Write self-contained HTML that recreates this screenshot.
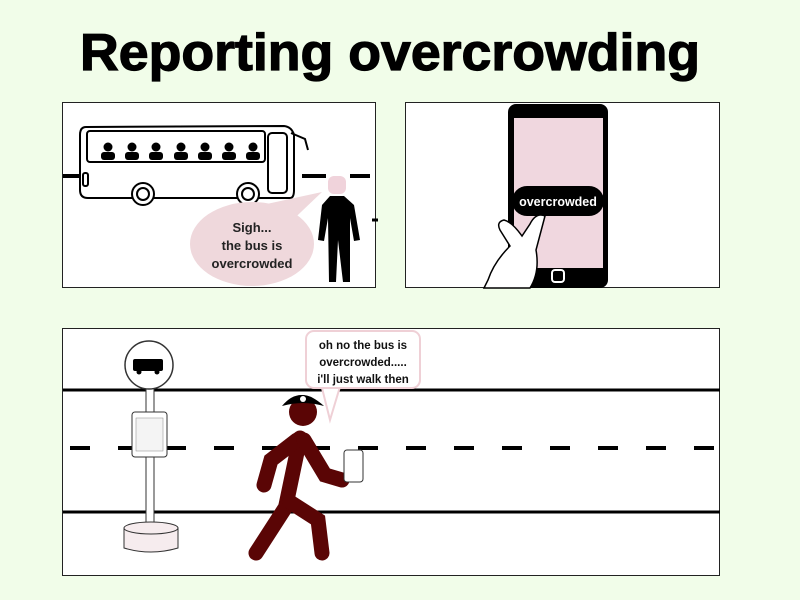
<!DOCTYPE html>
<html><head><meta charset="utf-8"><style>
html,body{margin:0;padding:0;background:#f1fde9;}
svg{display:block}
text{font-family:"Liberation Sans",sans-serif;font-weight:bold}
</style></head><body>
<svg width="800" height="600" viewBox="0 0 800 600">
<rect width="800" height="600" fill="#f1fde9"/>
<text x="390" y="70" text-anchor="middle" font-size="52" textLength="620" lengthAdjust="spacingAndGlyphs" fill="#000" stroke="#000" stroke-width="1.2">Reporting overcrowding</text>

<g>
<rect x="62.5" y="102.5" width="313" height="185" fill="#fff" stroke="#222"/>
<line x1="63" y1="176" x2="82" y2="176" stroke="#000" stroke-width="4"/>
<line x1="302" y1="176" x2="326" y2="176" stroke="#000" stroke-width="4"/>
<line x1="350" y1="176" x2="370" y2="176" stroke="#000" stroke-width="4"/>
<line x1="372" y1="220" x2="378" y2="220" stroke="#000" stroke-width="3"/>
<g fill="none" stroke="#000" stroke-width="2">
<path d="M86 127 Q80 127 80 135 L80 190 Q80 198 88 198 L290 198 Q294 198 294 190 L294 135 Q292 127 284 126 Z" fill="#fff"/>
<rect x="87" y="131" width="178" height="31" rx="3"/>
<rect x="268" y="133" width="19" height="60" rx="4"/>
<path d="M291 133 L305 139 L308 150"/>
<rect x="83" y="173" width="5" height="13" rx="2"/>
<circle cx="143" cy="194" r="11" fill="#fff"/><circle cx="143" cy="194" r="6"/>
<circle cx="248" cy="194" r="11" fill="#fff"/><circle cx="248" cy="194" r="6"/>
</g>
<g fill="#000">
<circle cx="108" cy="147" r="4.5"/><rect x="101" y="152" width="14" height="8" rx="3"/>
<circle cx="132" cy="147" r="4.5"/><rect x="125" y="152" width="14" height="8" rx="3"/>
<circle cx="156" cy="147" r="4.5"/><rect x="149" y="152" width="14" height="8" rx="3"/>
<circle cx="181" cy="147" r="4.5"/><rect x="174" y="152" width="14" height="8" rx="3"/>
<circle cx="205" cy="147" r="4.5"/><rect x="198" y="152" width="14" height="8" rx="3"/>
<circle cx="229" cy="147" r="4.5"/><rect x="222" y="152" width="14" height="8" rx="3"/>
<circle cx="253" cy="147" r="4.5"/><rect x="246" y="152" width="14" height="8" rx="3"/>
</g>
<g>
<rect x="328" y="176" width="18" height="18" rx="6" fill="#f0d3db"/>
<path d="M330 196 L344 196 L354 205 L360 240 L354 241 L350 218 L350 282 L343 282 L338 240 L336 282 L329 282 L328 218 L324 241 L318 240 L322 205 Z" fill="#000"/>
</g>
<g>
<path d="M230 212 L322 192 L280 232 Z" fill="#efd8dc"/>
<ellipse cx="252" cy="244" rx="62" ry="42" fill="#efd8dc"/>
<text x="252" y="232" text-anchor="middle" font-size="13" fill="#222">Sigh...</text>
<text x="252" y="250" text-anchor="middle" font-size="13" fill="#222">the bus is</text>
<text x="252" y="268" text-anchor="middle" font-size="13" fill="#222">overcrowded</text>
</g>
</g>

<g>
<rect x="405.5" y="102.5" width="314" height="185" fill="#fff" stroke="#222"/>
<rect x="508" y="104" width="100" height="184" rx="8" fill="#000"/>
<rect x="514" y="118" width="89" height="150" fill="#f0d7df"/>
<rect x="552" y="270" width="12" height="12" rx="3" fill="none" stroke="#fff" stroke-width="2"/>
<rect x="512" y="186" width="92" height="30" rx="15" fill="#000"/>
<text x="558" y="206" text-anchor="middle" font-size="12.5" fill="#fff">overcrowded</text>
<path d="M545 216 Q536 212 530 224 L522 236 Q512 222 504 220 Q496 222 500 230 L510 246 Q494 262 488 280 L484 288 L530 288 Q540 272 536 250 Z" fill="#fff" stroke="#000" stroke-width="1.5"/>
</g>

<g>
<rect x="62.5" y="328.5" width="657" height="247" fill="#fff" stroke="#222"/>
<line x1="63" y1="390" x2="720" y2="390" stroke="#000" stroke-width="3"/>
<line x1="70" y1="448" x2="720" y2="448" stroke="#000" stroke-width="4" stroke-dasharray="20 28"/>
<line x1="63" y1="512" x2="720" y2="512" stroke="#000" stroke-width="3"/>
<g>
<rect x="146" y="380" width="8" height="148" fill="#fff" stroke="#333"/>
<path d="M124 528 L178 528 L178 548 Q151 556 124 548 Z" fill="#f6ecee" stroke="#333"/>
<ellipse cx="151" cy="528" rx="27" ry="6" fill="#f6ecee" stroke="#333"/>
<circle cx="149" cy="365" r="24" fill="#fff" stroke="#333" stroke-width="1.5"/>
<rect x="133" y="359" width="30" height="12" rx="2" fill="#000"/>
<circle cx="139" cy="372" r="2.5" fill="#000"/><circle cx="157" cy="372" r="2.5" fill="#000"/>
<rect x="132" y="412" width="35" height="45" rx="3" fill="#fff" stroke="#333"/>
<rect x="136" y="418" width="27" height="33" fill="#f4f4f4" stroke="#888" stroke-width=".5"/>
</g>
<g>
<path d="M320 380 L330 420 L342 380 Z" fill="#fff" stroke="#efd0d6" stroke-width="2"/>
<rect x="306" y="331" width="114" height="57" rx="8" fill="#fff" stroke="#efd0d6" stroke-width="2"/>
<text x="363" y="349" text-anchor="middle" font-size="11.5" fill="#111">oh no the bus is</text>
<text x="363" y="366" text-anchor="middle" font-size="11.5" fill="#111">overcrowded.....</text>
<text x="363" y="383" text-anchor="middle" font-size="11.5" fill="#111">i'll just walk then</text>
</g>
<g>
<circle cx="303" cy="412" r="14" fill="#5a0505"/>
<path d="M282 406 Q300 384 324 406 Q303 400 282 406 Z" fill="#000"/>
<path d="M288 402 Q303 388 318 402 Z" fill="#000"/>
<circle cx="303" cy="399" r="3" fill="#fff"/>
<g stroke="#5a0505" stroke-width="15" stroke-linecap="round" fill="none">
<path d="M300 438 L286 505"/>
<path d="M297 440 L271 460 L264 485"/>
<path d="M304 440 L325 475 L342 480"/>
<path d="M287 505 L256 553"/>
<path d="M290 502 L318 520 L322 553"/>
</g>
<rect x="344" y="450" width="19" height="32" rx="3" fill="#fff" stroke="#333"/>
</g>
</g>
</svg>
</body></html>
